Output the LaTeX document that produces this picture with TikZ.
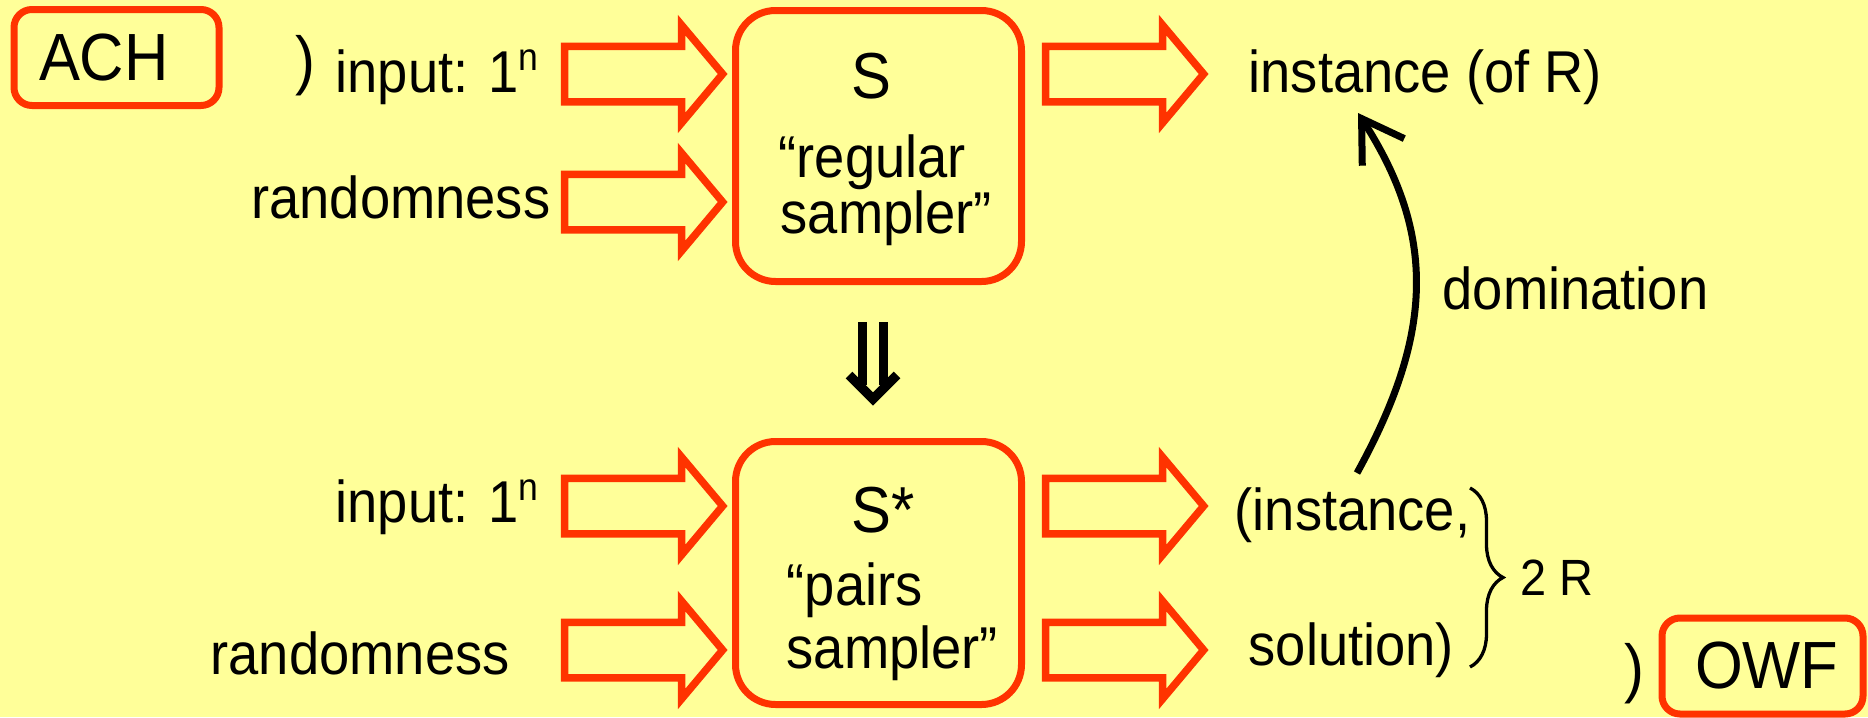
\documentclass[tikz,border=0pt]{standalone}
\usepackage{fontspec}
\setmainfont{Liberation Sans}[FakeStretch=0.92]
\usetikzlibrary{arrows.meta,shapes.arrows,decorations.pathreplacing}
\definecolor{slidebg}{HTML}{FFFF99}
\definecolor{boxred}{HTML}{FF3300}
\newcommand{\exps}[1]{\raisebox{0.36em}{\fontsize{11pt}{11pt}\selectfont #1}}

\begin{document}
\begin{tikzpicture} [x=0.1mm,y=0.1mm,line join=miter,
    txt/.style={inner sep=0pt,font=\fontsize{16.8pt}{18pt}\selectfont},
    big/.style={inner sep=0pt,font=\fontsize{18.5pt}{20pt}\selectfont},
    small/.style={inner sep=0pt,font=\fontsize{14.5pt}{16pt}\selectfont},
    tag/.style={draw=boxred,line width=0.7mm,rounded corners=1.8mm,minimum height=9.6mm,align=left,font=\fontsize{19pt}{20pt}\selectfont},
    sampler/.style={draw=boxred,line width=0.7mm,rounded corners=4mm,minimum width=28.6mm},
    fat/.style={single arrow,draw=boxred,line width=0.75mm,minimum height=15.8mm,inner xsep=0pt,inner ysep=2.4mm,single arrow head extend=2.1mm,single arrow tip angle=100}]

  \useasboundingbox (0,0) rectangle (1868,717);
  \fill[slidebg] (0,0) rectangle (1868,717);

  \node[tag,text width=15.5mm,inner xsep=2.5mm] (ach) at (116.5,659.5) {ACH};
  \node[tag,text width=13.5mm,inner xsep=3.3mm] (owf) at (1762.5,51) {OWF};
  \node[big,anchor=base] (imp1) at (305,635) {)};
  \node[big,anchor=base] (imp2) at (1634,27) {)};

  \node[sampler,minimum height=27.1mm] (S) at (878.5,571) {};
  \node[sampler,minimum height=26.3mm] (Sp) at (878.5,144) {};
  \node[big,anchor=base] (Sname) at (871,619) {S};
  \node[txt,anchor=base west] (Sl1) at (778,540) {“regular};
  \node[txt,anchor=base west] (Sl2) at (780,484) {sampler”};
  \node[big,anchor=base] (Spname) at (883,185) {S*};
  \node[txt,anchor=base west] (Spl1) at (786,112) {“pairs};
  \node[txt,anchor=base west] (Spl2) at (786,49) {sampler”};

  \node[fat] (a1) at (632,643) {};
  \node[fat] (a2) at (632,515) {};
  \node[fat] (a3) at (632,211) {};
  \node[fat] (a4) at (632,67) {};
  \node[fat] (b1) at (1113,643) {};
  \node[fat] (b3) at (1113,211) {};
  \node[fat] (b4) at (1113,67) {};

  \node[txt,anchor=base west] (in1) at (335,625) {input: 1\exps{n}};
  \node[txt,anchor=base east] (rnd1) at (551,499) {randomness};
  \node[txt,anchor=base west] (in2) at (335,195) {input: 1\exps{n}};
  \node[txt,anchor=base west] (rnd2) at (210,43) {randomness};

  \node[txt,anchor=base west] (inst) at (1248,625) {instance (of R)};
  \node[txt,anchor=base west] (pinst) at (1234,187) {(instance,};
  \node[txt,anchor=base west] (psol) at (1248,52) {solution)};
  \node[small,anchor=base west] (twoR) at (1520,122) {2 R};
  \node[txt,anchor=base west] (dom) at (1442,408) {domination};

  \draw[decorate,decoration={brace,amplitude=3.3mm},line width=0.33mm] (1470,229) -- (1470,50);

  \coordinate (domfoot) at (1357,244);
  \coordinate (domtip) at (1358,604);
  \draw[line width=0.7mm,-{Straight Barb[length=4mm,width=5mm]}]
    (domfoot) .. controls (1430,377) and (1440,477) .. (domtip);

  \draw[line width=0.95mm] (862.5,395) -- (862.5,332) (883.7,395) -- (883.7,332);
  \draw[line width=0.95mm] (849,342) -- (873,318) -- (897,342);

\end{tikzpicture}
\end{document}
